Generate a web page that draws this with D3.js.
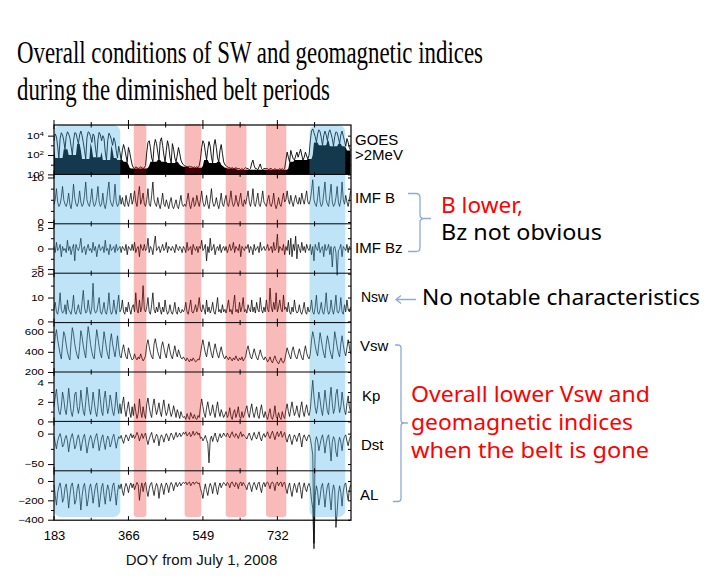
<!DOCTYPE html>
<html><head><meta charset="utf-8">
<script src="https://cdn.jsdelivr.net/npm/d3@7"></script>
<style>body{margin:0;background:#fff} svg{display:block}</style>
</head><body>
<svg id="c" width="719" height="582"></svg>
<script>
// ---------------- DATA ----------------
const startDay = 183, stepDays = 3;   // DOY of first sample, spacing of samples (days)
const xMajorTicks = [183, 366, 549, 732];
const xMinorTicks = [274.5, 457.5, 640.5, 823.5];

const goes = [
 3000,15000,8000,800,50,5000,20000,12000,3000,400,
 8000,25000,15000,6000,800,100,3000,20000,18000,5000,
 1500,12000,30000,10000,2000,300,40,6000,25000,20000,
 8000,2000,15000,9000,500,60,4000,22000,12000,3000,
 10000,5000,200,30,3000,18000,10000,4000,1000,6000,
 2500,300,50,800,200,
 30,300,1200,400,80,20,600,200,40,10,
 5,4,6,5,4,5,6,5,4,5,8,
 200,2000,3000,600,50,20,800,4000,1500,200,30,2500,6000,1000,100,20,300,3000,800,60,15,1500,400,50,20,100,600,150,30,15,10,
 8,7,6,6,7,6,6,5,6,5,6,5,8,40,
 600,3000,1500,200,30,400,2500,800,60,15,1000,4000,600,50,20,300,1200,150,20,10,
 8,6,5,5,4,5,4,4,5,4,4,4,3,4,3,4,5,
 4,4,3,4,15,30,8,4,4,3,6,12,4,3,4,4,
 4,4,3,4,4,3,3,4,3,3,3,4,3,4,3,4,30,
 200,60,20,300,100,40,30,80,200,60,150,400,100,30,60,200,80,40,100,
 3000,30000,50000,20000,8000,2000,15000,40000,25000,6000,1000,10000,30000,12000,3000,20000,40000,15000,5000,800,8000,25000,20000,6000,1500,12000,30000,9000,3000,
 800,5000,2000,600,300];

const imfB = [
 4,5,7.5,4.5,3.5,4,5.5,8,5,4, 3.5,4.5,6.5,4,3,5,8.5,5.5,4,3.5, 4.5,7,4.5,3.5,4,6,9,5,4,3.5, 5,7.5,4.5,3.5,4,5.5,8,4.5,3.5,4, 6.5,4,3,4.5,7,9,5,4,3.5,5, 8.5,4.5,3.5,4,6,
 4,5.5,4,3.5,6,4.5,3.5,5,6.5,4,
 5,7,4.5,3.5,6,8,4,5,6.5,4,3.5,
 5,7.5,4,3.5,6,9,5,4,3.5,5.5, 4,3,4.5,6.5,4,3.5,5,4,3,4.5, 5.5,3.5,3,4,5,3.5,3,4.5,6,4, 3.5,
 4,3.5,5,6.5,4,3,4.5,5.5,3.5,4,6,4.5,3.5,5,
 7,4.5,3.5,4,6,4,3,5,7.5,4.5, 3.5,4,5.5,4,3,4.5,6.5,4,3.5,5,
 6,4,3.5,5,7,4.5,3.5,4,6,4.5,3.5,5,6.5,4,3.5,5,4,
 5.5,7,4.5,3.5,5,7.5,4,3.5,5,6.5,4,3.5,5,7,4.5,4,
 3.5,5,6,4,3.5,4.5,6.5,4,3,4,5.5,4,3.5,5,6.5,4.5,5,
 7,5,4,6,4.5,3.5,5,6,4.5,4,5.5,4,6.5,5,4,5.5,7,4.5,4,
 5,7,9.5,5,4,3.5,5.5,8,4.5,3.5, 4,6.5,9,5,4,3.5,6,8.5,4.5,3.5, 4,5.5,8,4.5,3.5,5,9,5,4,
 6,4.5,3.5,5,7];

const imfBz = [
 0.5,-1,1.5,-0.5,0,1,-2,0.5,-0.5,0, -1,2,-0.5,0.5,-1.5,0,1,-3,1,0, -0.5,0.5,2.5,-1,0,0.5,-1.5,0,1,-0.5, 0,-1,1.5,-0.5,0.5,-2,0,1,-0.5,0, 0.5,-1,2,-0.5,0,-1.5,1,-0.5,0,0.5, -1,1,-0.5,0,0.5,
 -1,0.5,0,-0.5,1,-1.5,0.5,0,-0.5,1,
 -0.5,1.5,-1,0,0.5,-2,1,0,-0.5,1,-0.5,
 0,2.5,-1,0.5,0,-1.5,1,3,-0.5,0, 0.5,-1,0,1,-0.5,0,1.5,-1,0.5,0, -0.5,0.5,0,-1,1,0,-0.5,0.5,0,-1, 0.5,
 0,-1,1.5,-0.5,0,0.5,-1.5,1,0,-0.5,0.5,-1,0.5,0,
 2,-0.5,0,1,-3,0.5,-1,2.5,-0.5,0, 1,-1.5,0,0.5,-0.5,1,-1,0,0.5,-0.5,
 0.5,-1,0,1,-0.5,0,1.5,-1,0.5,0,-0.5,1,-2,0.5,0,-0.5,0.5,
 0,1,-1,0.5,0,-1.5,1,-0.5,0,0.5,-1,1.5,-0.5,0,0.5,-0.5,
 0,1,-0.5,0,0.5,-1,1.5,-0.5,0,3.5,-1,0.5,0,-0.5,1,-1.5,0.5,
 -0.5,2,-1.5,2.5,-2,1,-0.5,3,-2.5,1, 0,-1,1.5,-0.5,0.5,-1,1,0,-0.5,
 1,-1.5,0.5,-3,1,0,-0.5,1.5,-1,0, 0.5,-2,1,-0.5,0,1,-1.5,0.5,-4.5,0, 0.5,-1,-6.5,-0.5,0,1,-2,0.5,0,
 -0.5,1,-1,0.5,0];

const nsw = [
 5,8,4,3,6,12,5,3.5,4,7, 3,9,5,4,3,6,11,4,3,5, 7,4,3,8,13,6,3.5,4,9,5, 3,6,16,5,3.5,4,7,10,4,3, 5,8,4,3,6,12,5,3,4,9, 5,3,7,11,4,
 5,9,4,3,6,4,8,5,3,6,
 7,4,12,5,3.5,9,4,6,15,5,4,
 6,10,4,3,7,12,5,3.5,6,4, 8,5,3,6,4,9,5,3,4,7, 4,3,5,8,4,3,6,4,3.5,5, 4,
 5,8,4,3,6,9,4,3.5,5,7,4,6,10,5,
 4,7,5,3,9,4,6,3.5,5,8, 4,3,6,10,4,5,3.5,7,4,5,
 3.5,6,9,4,5,3,7,11,4,5,3.5,8,4,6,10,4,5,
 3.5,7,5,4,9,4,6,3.5,8,5,4,10,5,3.5,6,4,
 9,5,4,14,6,4,8,5,12,4,6,9,5,4,11,5,6,
 4,8,4,3,6,4,9,5,3.5,4, 7,4,3,5,8,4,3,6,4,
 5,9,4,3,6,11,4,3,5,8, 4,3,6,12,5,3,4,9,5,3, 6,11,4,3.5,5,10,4,3,7,
 4,9,5,4,6];

const vsw = [
 420,550,620,520,450,380,330,480,600,560, 470,400,350,320,500,640,580,480,410,360, 330,450,610,550,460,390,340,520,650,570, 470,400,350,330,490,620,540,450,380,340, 470,600,520,430,370,330,500,580,480,410, 350,440,560,450,360,
 340,420,470,400,350,330,440,390,350,320,
 330,380,340,320,350,330,380,340,310,330,360,
 470,520,450,390,350,330,480,530,460,400, 360,330,450,500,440,380,340,420,480,410, 360,330,400,460,390,350,420,380,340,330, 350,
 330,310,340,320,300,330,310,340,320,300,310,330,320,380,
 460,520,450,390,350,430,500,440,380,340, 420,480,420,370,340,400,450,390,350,330,
 360,340,320,350,330,310,340,320,360,330,310,340,320,350,310,330,350,
 420,460,400,350,330,380,430,380,340,320,370,420,370,340,320,350,
 330,300,320,350,310,290,330,360,320,300,280,310,340,300,290,320,380,
 440,400,360,330,410,450,390,350,330,380, 430,380,340,320,400,460,390,350,330,
 380,520,600,540,460,400,360,480,590,520, 440,380,340,470,560,500,420,370,330,450, 600,530,450,390,350,480,560,470,400,
 360,440,520,450,380];

const kp = [
 1.5,2.5,3.3,2,1,0.7,1.5,3,2.3,1.2, 0.7,1.8,3.4,2.2,1,0.5,1.3,2.8,3,1.5, 0.8,1.5,3.2,2,1,0.6,2,3.5,2.5,1.3, 0.7,1.6,3,2,1,0.5,1.5,3.3,2.2,1, 0.6,2.3,3.1,1.8,0.8,1.4,2.7,2,1,0.6, 1.5,3,1.7,0.8,1.8,
 0.8,1.8,2.5,1.2,0.5,1.3,2,1,0.4,1.5,
 0.6,1.8,1,0.3,0.8,2.3,1,0.4,1.5,0.7,0.3,
 1.8,2.4,1.5,0.8,0.4,1.6,2.3,1.4,0.7,1.2, 1.9,1,0.5,1.5,2.2,1.2,0.6,1,1.8,1.1, 0.5,0.9,1.6,1,0.4,1.2,0.8,0.3,1,0.6, 0.4,
 0.5,0.2,0.8,0.4,0.2,0.9,0.5,0.3,0.7,0.3,0.2,0.6,0.4,1.5,
 2.3,1.5,0.8,0.4,1.4,2,1.2,0.6,1,1.7, 0.9,0.4,1.3,2,1,0.5,1.2,0.8,0.4,0.7,
 1,0.4,0.7,1.4,0.5,0.2,0.9,1.2,0.4,0.8,1.5,0.5,0.3,1,0.4,0.7,1.2,
 1.6,0.8,0.4,1.2,1.8,0.9,0.4,1,1.5,0.6,0.3,1.1,1.7,0.8,0.4,1,
 0.5,0.2,0.8,1.3,0.4,0.2,0.7,1.6,0.5,0.3,0.9,0.4,0.2,1,0.5,0.3,1.2,
 1.8,1,0.5,1.3,2,1.2,0.6,1,1.6,0.8, 0.4,1.4,2,1,0.5,1.2,1.7,0.9,0.6,
 1.2,2.8,4.2,2.5,1.4,0.8,1.6,3,2.2,1.2, 0.6,1.8,3.2,2,1,0.7,2.4,3.5,1.8,0.8, 1.3,2.8,3.3,1.9,0.9,1.5,3,2,1.1,
 0.7,1.8,2.6,1.5,1];

const dst = [
 -5,-15,-25,-12,-5,0,-8,-22,-18,-8, -3,-12,-30,-15,-6,0,-10,-25,-20,-8, -2,-12,-28,-16,-6,-1,-15,-32,-20,-9, -3,-10,-24,-14,-5,0,-12,-28,-18,-7, -2,-15,-26,-12,-4,-9,-22,-16,-6,-1, -12,-24,-13,-5,-8,
 -3,-10,-16,-8,-2,-6,-12,-5,0,-7,
 -2,-8,-4,2,-3,-12,-5,0,-8,-3,1,
 -10,-18,-9,-3,2,-8,-15,-7,-1,-5, -20,-8,-2,-6,-14,-6,0,-4,-12,-5, 1,-3,-10,-4,2,-6,-3,1,-5,-2, 2,
 -1,3,-4,-1,2,-5,-2,4,-3,0,3,-2,1,-8,
 -6,-12,-8,-3,-10,-16,-48,-10,-4,-13, -5,1,-8,-14,-6,0,-7,-4,1,-3,
 -5,1,-3,-7,-1,3,-4,-6,0,-3,-8,-2,3,-5,-1,-4,-6,
 -9,-3,1,-6,-11,-4,2,-5,-9,-2,3,-7,-12,-4,0,-6,
 -2,3,-4,-8,-1,4,-3,-10,-2,3,-5,-1,4,-6,-2,2,-8,
 -14,-6,-1,-10,-18,-8,-2,-7,-13,-4, 1,-9,-22,-7,-2,-8,-12,-5,-2,
 -8,-20,-35,-180,-15,-5,-12,-28,-18,-8, -2,-14,-32,-16,-6,-2,-20,-45,-14,-5, -10,-30,-38,-15,-6,-14,-28,-12,-5,
 -2,-12,-20,-10,-4];

const al = [
 -40,-150,-250,-120,-60,-20,-90,-220,-180,-70, -30,-130,-280,-150,-50,-20,-100,-240,-200,-80, -30,-140,-300,-160,-60,-25,-120,-260,-190,-70, -30,-110,-230,-140,-50,-20,-130,-270,-170,-60, -25,-150,-240,-110,-40,-90,-210,-150,-50,-20, -120,-250,-120,-40,-80,
 -30,-100,-150,-70,-25,-60,-120,-50,-20,-70,
 -30,-90,-50,-15,-40,-200,-80,-20,-110,-40,-15,
 -100,-160,-80,-30,-15,-90,-150,-70,-25,-60, -180,-80,-25,-70,-140,-60,-20,-50,-120,-50, -15,-40,-100,-45,-15,-60,-35,-15,-50,-25, -15,
 -25,-10,-40,-20,-10,-50,-25,-10,-35,-15,-10,-30,-20,-80,
 -120,-180,-90,-30,-100,-150,-70,-25,-60,-130, -50,-15,-80,-140,-60,-20,-70,-40,-15,-30,
 -50,-15,-30,-70,-20,-10,-40,-60,-15,-30,-80,-25,-10,-50,-15,-35,-60,
 -90,-35,-15,-60,-110,-45,-15,-50,-90,-30,-10,-70,-120,-40,-15,-60,
 -20,-10,-40,-80,-20,-10,-35,-100,-25,-10,-50,-20,-10,-60,-20,-15,-80,
 -130,-60,-20,-100,-160,-80,-25,-70,-120,-40, -15,-90,-180,-70,-20,-80,-110,-50,-25,
 -70,-200,-280,-700,-150,-50,-110,-250,-170,-60, -25,-130,-270,-140,-50,-20,-170,-300,-120,-40, -90,-480,-310,-130,-50,-120,-260,-110,-40,
 -20,-120,-200,-90,-40];

// shaded periods (DOY)
const bandStart = [183, 379, 504, 605, 704, 811];
const bandEnd   = [346, 410, 545, 656, 754, 899];
const bandKind  = ['belt', 'gone', 'gone', 'gone', 'gone', 'belt'];

// panel axis ticks
const goesTicks = [1, 100, 10000], goesMinor = [10, 1000];
const bTicks = [0, 10], bMinor = [2.5, 5, 7.5];
const bzTicks = [-5, 0, 5], bzMinor = [-2.5, 2.5];
const nswTicks = [0, 10, 20], nswMinor = [5, 15];
const vswTicks = [200, 400, 600], vswMinor = [300, 500];
const kpTicks = [0, 2, 4], kpMinor = [1, 3];
const dstTicks = [-50, 0], dstMinor = [-25];
const alTicks = [-400, -200, 0], alMinor = [-300, -100];

const panelNames = [['GOES', '>2MeV'], ['IMF B'], ['IMF Bz'], ['Nsw'], ['Vsw'], ['Kp'], ['Dst'], ['AL']];

// ---------------- CHART ----------------
const svg = d3.select('#c');
const plotTop = 125, panelH = 49.4, xLeft = 54, xRight = 351;
const x = d3.scaleLinear().domain([183, 913]).range([xLeft, xRight]);

const panels = [
  {v: goes, log: true, domain: [1, Math.pow(10, 5.1)], ticks: goesTicks, minor: goesMinor},
  {v: imfB, domain: [-0.4, 10.7], ticks: bTicks, minor: bMinor},
  {v: imfBz, domain: [-6, 6], ticks: bzTicks, minor: bzMinor},
  {v: nsw, domain: [-0.5, 20.2], ticks: nswTicks, minor: nswMinor},
  {v: vsw, domain: [200, 690], ticks: vswTicks, minor: vswMinor},
  {v: kp, domain: [0, 5.05], ticks: kpTicks, minor: kpMinor},
  {v: dst, domain: [-61, 20], ticks: dstTicks, minor: dstMinor},
  {v: al, domain: [-405, 105], ticks: alTicks, minor: alMinor}
];
const labelX = [355, 355, 355, 361, 360, 362, 361, 360];

panels.forEach((p, k) => {
  p.y0 = plotTop + k * panelH; p.y1 = p.y0 + panelH;
  p.y = (p.log ? d3.scaleLog() : d3.scaleLinear()).domain(p.domain).range([p.y1, p.y0]);
});

const dayOf = i => startDay + i * stepDays;
const gData = svg.append('g');
panels.forEach((p, k) => {
  if (p.log) {
    // solid fill up to the local trough level (dense flux floor)
    const trough = (d, i, a) => d3.min(a.slice(Math.max(i - 3, 0), Math.min(i + 4, a.length)));
    gData.append('path').datum(p.v)
      .attr('d', d3.area().x((d, i) => x(dayOf(i))).y0(p.y1).y1((d, i, a) => p.y(trough(d, i, a))))
      .attr('fill', '#000');
  }
  gData.append('path').datum(p.v)
    .attr('d', d3.line().x((d, i) => x(dayOf(i))).y(d => p.y(d)))
    .attr('fill', 'none').attr('stroke', '#000').attr('stroke-width', p.log ? 0.9 : 0.75)
    .attr('stroke-linejoin', 'round');
});

// shaded overlays
svg.append('g').selectAll('rect').data(bandStart).join('rect')
  .attr('x', (d, i) => x(d))
  .attr('width', (d, i) => x(bandEnd[i]) - x(d))
  .attr('y', (d, i) => bandKind[i] === 'belt' ? plotTop : plotTop - 1)
  .attr('height', (d, i) => (bandKind[i] === 'belt' ? 517 - plotTop : 518 - plotTop))
  .attr('rx', (d, i) => bandKind[i] === 'belt' ? 7 : 3)
  .attr('fill', (d, i) => bandKind[i] === 'belt' ? 'rgba(60,170,230,0.33)' : 'rgba(232,0,0,0.27)');

// axes
const axFont = g => g.attr('font-family', 'Liberation Sans, Arial, sans-serif').attr('font-size', 11.5);
panels.forEach((p, k) => {
  const gl = svg.append('g').attr('transform', `translate(${xLeft},0)`);
  gl.call(d3.axisLeft(p.y).tickValues(p.ticks).tickSize(6).tickPadding(4)
      .tickFormat(d => p.log ? '' : d3.format('d')(d)))
    .call(axFont).call(g => g.select('.domain').remove());
  gl.selectAll('.tick text').attr('transform', 'scale(1,0.78)').attr('fill', '#000');
  if (p.log) {
    gl.selectAll('.tick text').each(function(d) {
      const t = d3.select(this);
      t.text('10');
      t.append('tspan').attr('dy', '-0.5em').attr('font-size', 8).text(Math.round(Math.log10(d)));
    });
  }
  svg.append('g').attr('transform', `translate(${xLeft},0)`)
    .call(d3.axisLeft(p.y).tickValues(p.minor).tickSize(3).tickFormat(''))
    .call(g => g.select('.domain').remove());
  svg.append('g').attr('transform', `translate(${xRight},0)`)
    .call(d3.axisRight(p.y).tickValues(p.ticks.concat(p.minor)).tickSize(-3).tickFormat(''))
    .call(g => g.select('.domain').remove());
  // x ticks inside each panel (top pointing down, bottom pointing up)
  const gx = svg.append('g').attr('stroke', '#000').attr('stroke-width', 1);
  xMajorTicks.concat(xMinorTicks).forEach(t => {
    const len = xMajorTicks.includes(t) ? 4 : 2.5;
    gx.append('line').attr('x1', x(t)).attr('x2', x(t)).attr('y1', p.y0).attr('y2', p.y0 + len);
    gx.append('line').attr('x1', x(t)).attr('x2', x(t)).attr('y1', p.y1).attr('y2', p.y1 - len);
  });
  // panel label at right
  const names = panelNames[k];
  const cy = (p.y0 + p.y1) / 2;
  names.forEach((nm, j) => {
    svg.append('text').attr('x', labelX[k])
      .attr('y', names.length > 1 ? cy - 5 + j * 15 : cy + 4)
      .attr('font-family', 'Liberation Sans, Arial, sans-serif')
      .attr('font-size', k === 3 ? 14 : 15).attr('fill', '#000').text(nm);
  });
});

// top outward ticks
const gTop = svg.append('g').attr('stroke', '#000');
xMajorTicks.concat(xMinorTicks).forEach(t => {
  const len = xMajorTicks.includes(t) ? 5 : 3;
  gTop.append('line').attr('x1', x(t)).attr('x2', x(t)).attr('y1', plotTop).attr('y2', plotTop - len);
});

// bottom axis labels
const plotBottom = plotTop + 8 * panelH;
svg.append('g').attr('transform', `translate(0,${plotBottom})`)
  .call(d3.axisBottom(x).tickValues(xMajorTicks).tickSize(0).tickPadding(11).tickFormat(d3.format('d')))
  .attr('font-family', 'Liberation Sans, Arial, sans-serif').attr('font-size', 13)
  .call(g => g.select('.domain').remove())
  .call(g => g.selectAll('text').attr('fill', '#000'));

svg.append('text').attr('x', 201.5).attr('y', 565)
  .attr('text-anchor', 'middle').attr('font-family', 'Liberation Sans, Arial, sans-serif')
  .attr('font-size', 15).attr('fill', '#111').text('DOY from July 1, 2008');

// frame & separators
svg.append('rect').attr('x', xLeft).attr('y', plotTop).attr('width', xRight - xLeft)
  .attr('height', 8 * panelH).attr('fill', 'none').attr('stroke', '#000').attr('stroke-width', 1.2);
svg.append('g').selectAll('line').data(panels.slice(1)).join('line')
  .attr('x1', xLeft).attr('x2', xRight).attr('y1', p => p.y0).attr('y2', p => p.y0)
  .attr('stroke', '#000').attr('stroke-width', 1);

// title
const titleFont = 'Liberation Serif, Times New Roman, serif';
svg.append('text').attr('x', 17).attr('y', 63).attr('font-family', titleFont).attr('font-size', 32)
  .attr('textLength', 466).attr('lengthAdjust', 'spacingAndGlyphs').attr('fill', '#000')
  .text('Overall conditions of SW and geomagnetic indices');
svg.append('text').attr('x', 17).attr('y', 100).attr('font-family', titleFont).attr('font-size', 32)
  .attr('textLength', 313).attr('lengthAdjust', 'spacingAndGlyphs').attr('fill', '#000')
  .text('during the diminished  belt periods');

// annotations
const annFont = 'Noto Sans, Open Sans, sans-serif';
const bracketColor = '#8eaadb';
const ann = (tx, xx, yy, w, col) => svg.append('text').attr('x', xx).attr('y', yy)
  .attr('font-family', annFont).attr('font-size', 21).attr('fill', col)
  .attr('textLength', w).attr('lengthAdjust', 'spacingAndGlyphs').text(tx);
ann('B lower,', 441, 213, 82, '#ff0000');
ann('Bz not obvious', 441, 239.5, 161, '#000');
ann('No notable characteristics', 422, 305, 278, '#000');
ann('Overall lower Vsw and', 411, 401.5, 239, '#ff0000');
ann('geomagnetic indices', 411, 429.5, 222, '#ff0000');
ann('when the belt is gone', 411, 457.5, 238, '#ff0000');

svg.append('path')
  .attr('d', 'M408,193.5 H416 Q420,193.5 420,197.5 V214.5 Q420,218.5 424,218.5 H431 M424,218.5 Q420,218.5 420,222.5 V247.5 Q420,251.5 416,251.5 H408')
  .attr('fill', 'none').attr('stroke', bracketColor).attr('stroke-width', 1.3);
svg.append('path')
  .attr('d', 'M395,345 H398 Q401,345 401,348 V420 Q401,423 404,423 H408 M404,423 Q401,423 401,426 V498.5 Q401,501.5 398,501.5 H393')
  .attr('fill', 'none').attr('stroke', bracketColor).attr('stroke-width', 1.3);
svg.append('path')
  .attr('d', 'M416,299.5 H396 M401,295.5 L396,299.5 L401,303.5')
  .attr('fill', 'none').attr('stroke', bracketColor).attr('stroke-width', 1.3);
</script>
</body></html>
